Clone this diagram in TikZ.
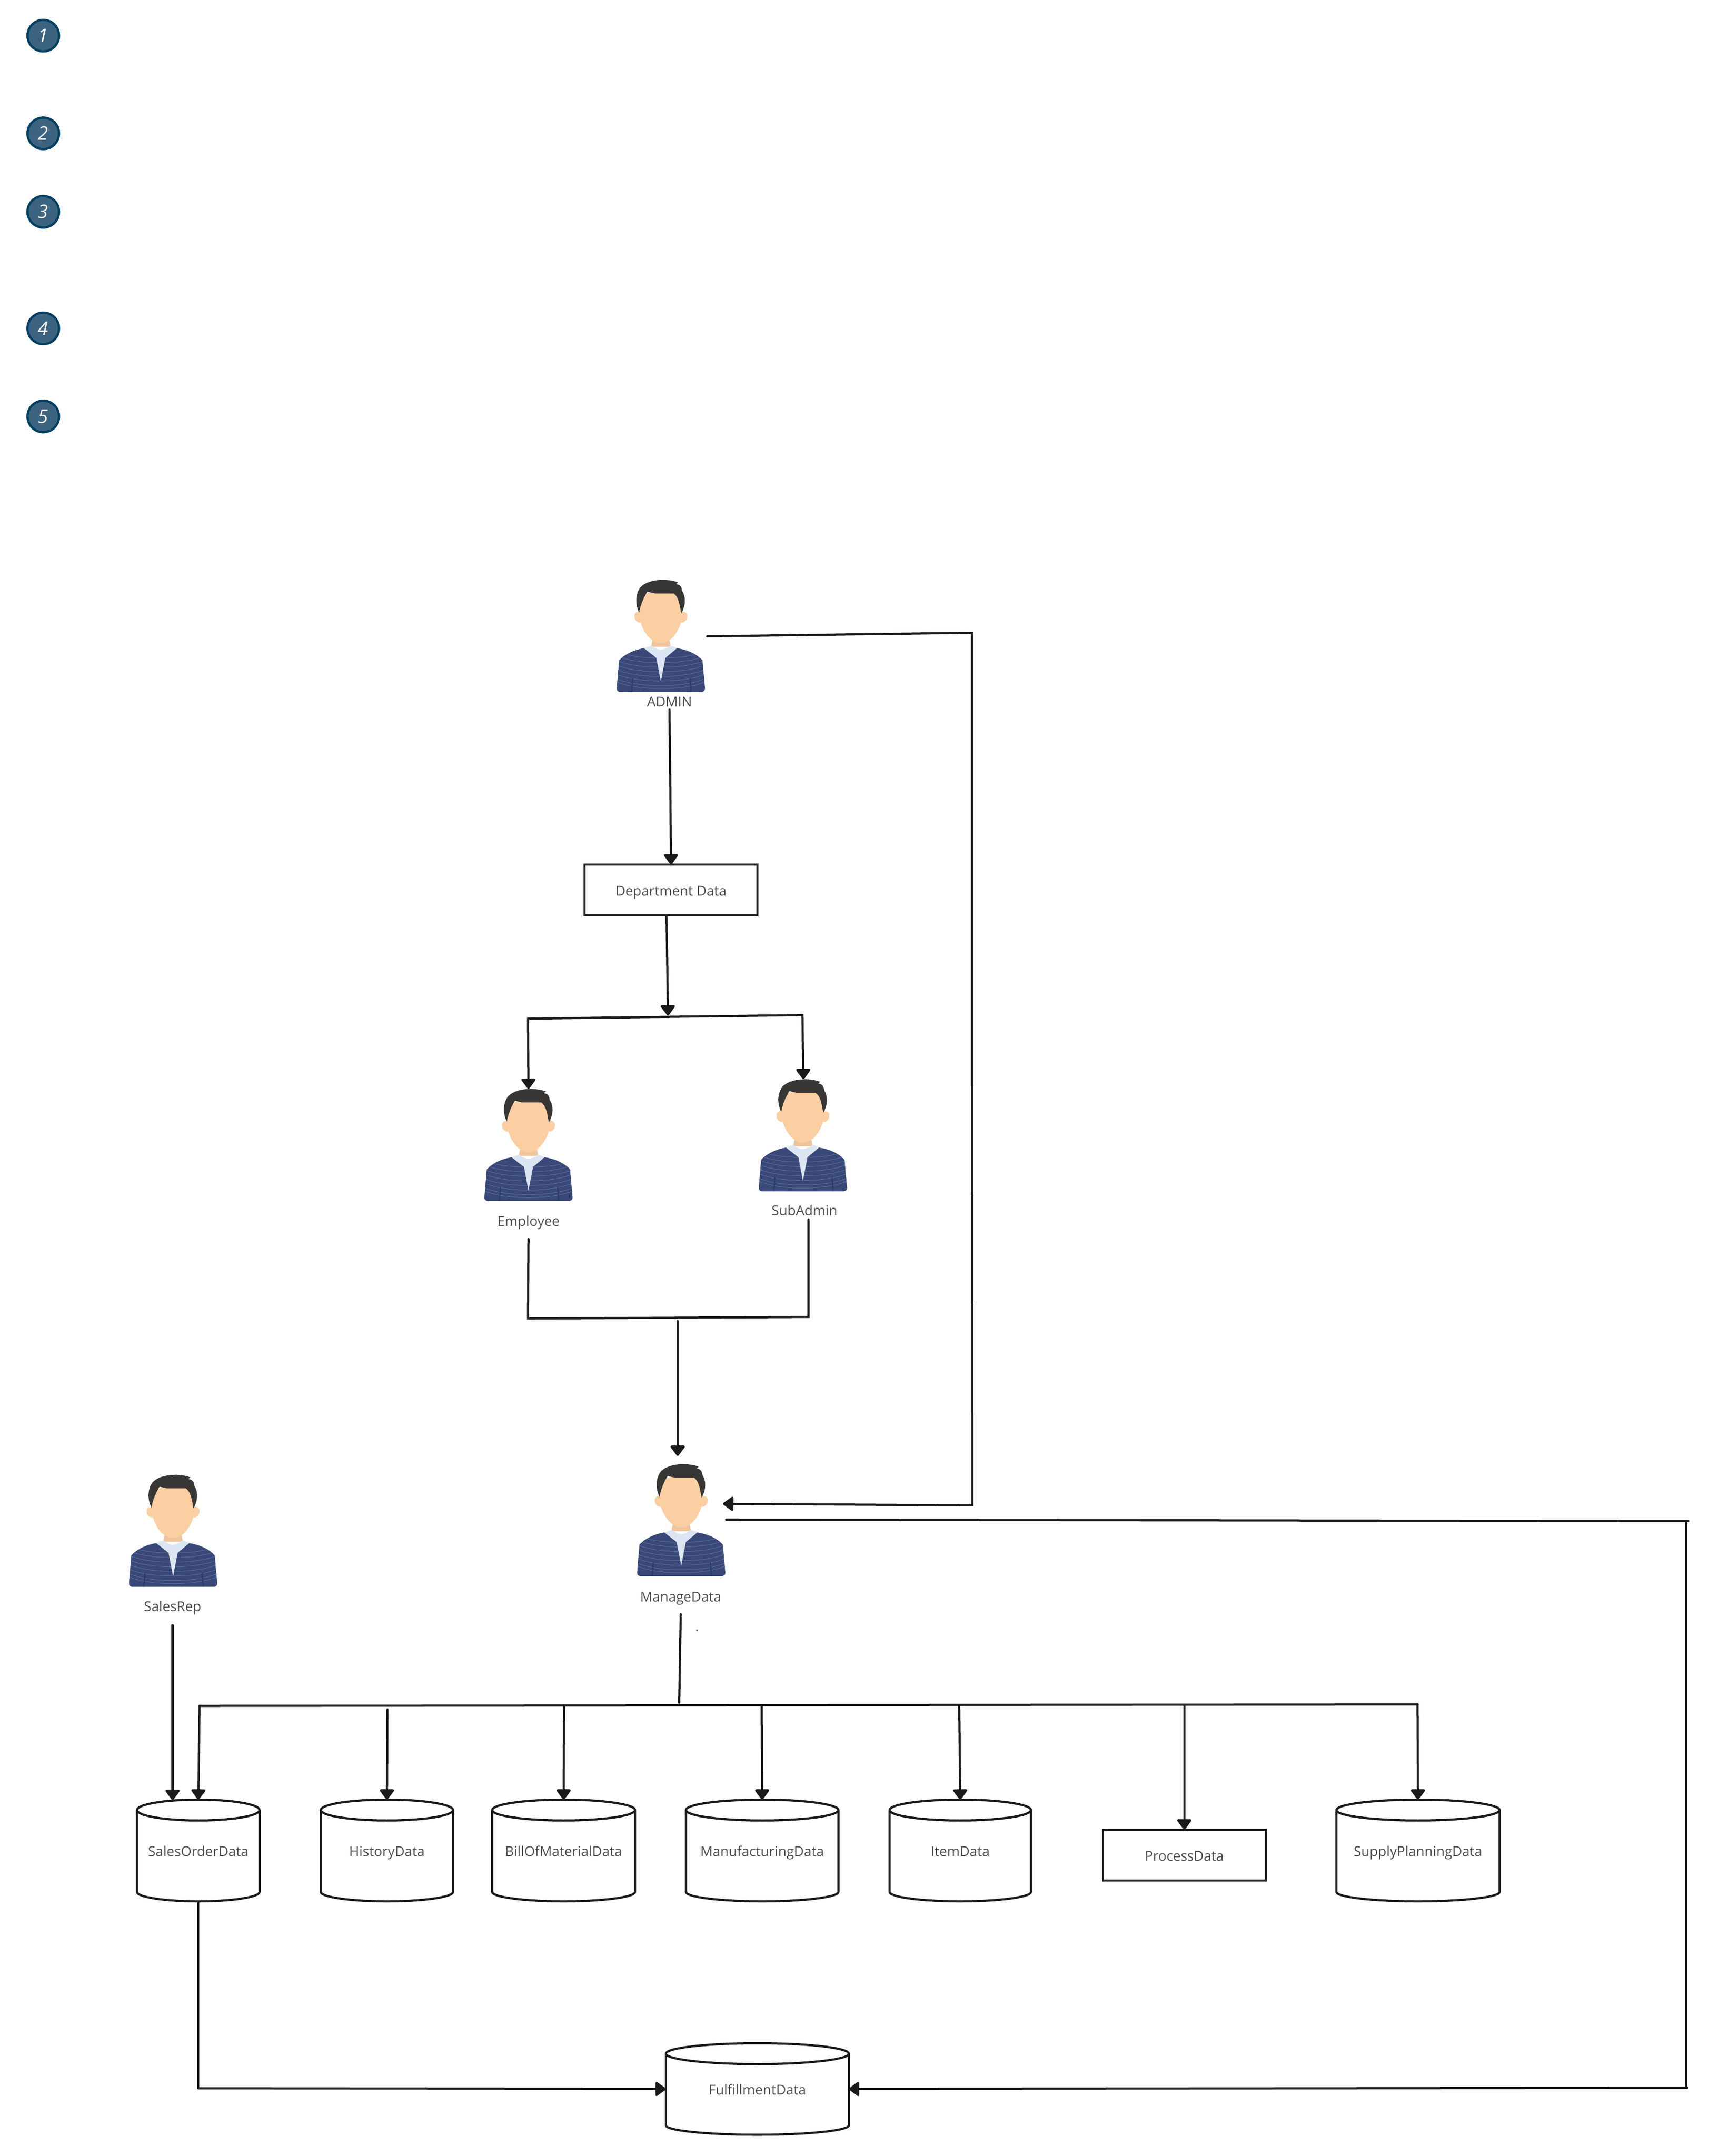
\documentclass[tikz,border=0pt]{standalone}
\usepackage{fontspec}
\setmainfont{Open Sans}
\usetikzlibrary{arrows.meta}
\definecolor{inkline}{HTML}{1A1A1A}
\definecolor{inktext}{HTML}{4D4D4D}
\definecolor{hair}{HTML}{383735}
\definecolor{skin}{HTML}{FBCFA2}
\definecolor{neck}{HTML}{F0C59B}
\definecolor{collar}{HTML}{DCE6F2}
\definecolor{jacket}{HTML}{394878}
\definecolor{stripe}{HTML}{566F98}
\definecolor{seam}{HTML}{2E3B6B}
\definecolor{badgefill}{HTML}{3C6480}
\definecolor{badgeline}{HTML}{033F62}
\tikzset{
	person/.pic={
		\begin{scope}[scale=0.3333,shift={(-450,-125)}]
			\fill[neck] (403,470) -- (392,520) -- (508,520) -- (497,470) -- cycle;
			\fill[skin] (322,315) .. controls (282,305) and (285,378) .. (330,377) -- cycle;
			\fill[skin] (578,315) .. controls (618,305) and (615,378) .. (570,377) -- cycle;
			\fill[skin] (320,300) .. controls (320,400) and (380,498) .. (450,498) .. controls (520,498) and (580,400) .. (580,300) .. controls (580,220) and (530,190) .. (450,190) .. controls (370,190) and (320,220) .. (320,300) -- cycle;
			\fill[hair] (322,318) .. controls (300,270) and (298,220) .. (325,175) .. controls (355,135) and (420,125) .. (470,125) .. controls (505,127) and (530,132) .. (552,140) -- (540,150) .. controls (570,155) and (572,170) .. (575,190) .. controls (595,220) and (600,270) .. (570,322) .. controls (560,270) and (555,225) .. (525,205) -- (415,205) -- (370,195) .. controls (345,235) and (330,275) .. (322,318) -- cycle;
			\fill[collar] (350,528) -- (395,512) .. controls (415,530) and (435,536) .. (450,538) .. controls (465,536) and (485,530) .. (505,512) -- (545,526) -- (477,585) -- (450,725) -- (423,585) -- cycle;
			\begin{scope}
				\path[clip] (204,600) .. controls (235,565) and (290,538) .. (350,528) -- (423,585) -- (450,725) -- (477,585) -- (545,528) .. controls (610,538) and (665,565) .. (695,600) -- (710,765) .. controls (710,778) and (700,785) .. (690,785) -- (210,785) .. controls (198,785) and (190,778) .. (190,765) -- cycle;
				\fill[jacket] (180,520) rectangle (720,790);
				\foreach \dy in {0,27,54,81,108,135,162,180}
					\draw[stripe,line width=.2mm] (190,{545+\dy}) .. controls (300,{600+\dy}) and (600,{600+\dy}) .. (710,{545+\dy});
				\draw[seam,line width=.5mm] (285,705) -- (278,785) (622,705) -- (628,785);
			\end{scope}
		\end{scope}
	},
	label/.style={text=inktext,inner sep=0pt,text height=16pt,text depth=3pt,font=\fontsize{15.3}{17}\selectfont},
	dbcyl/.style={label,rectangle,outer sep=0pt},
	databox/.style={label,rectangle,draw=inkline,line width=.85mm,outer sep=0pt},
	badge/.style={circle,fill=badgefill,draw=badgeline,line width=.9mm,minimum size=12.4mm,inner sep=0pt,text=white,font=\fontsize{21}{24}\selectfont\itshape},
	link/.style={draw=inkline,line width=.85mm,line cap=round},
	flow/.style={link,-{Triangle[length=4.4mm,width=6.2mm,round]}}
}
% node name, half width in mm: draws the drum round a data store
\newcommand{\drum}[2]{
	\draw[inkline,line width=.85mm,line join=round] ([yshift=-4.1mm]#1.north west) -- ([yshift=3.7mm]#1.south west)
		arc[start angle=180,end angle=360,x radius=#2 mm,y radius=3.7mm] -- ([yshift=-4.1mm]#1.north east)
		arc[start angle=0,end angle=360,x radius=#2 mm,y radius=4.1mm];
}
\begin{document}
\begin{tikzpicture}[x=0.2003mm,y=-0.2003mm]
	\useasboundingbox (0,0) rectangle (3356.6,4235.2);
	% numbered badges
	\foreach \n/\ypos in {1/70,2/262,3/416,4/645,5/818}
		\node[badge] (Badge\n) at (85,\ypos) {\n};
	% people
	\pic at (1298,1139) {person};
	\pic at (1038,2139) {person};
	\pic at (1577,2120) {person};
	\pic at (1338,2876) {person};
	\pic at (340,2897) {person};
	\node[label] (Admin) at (1315,1377) {ADMIN};
	\node[label] (Employee) at (1038,2397) {Employee};
	\node[label] (SubAdmin) at (1580,2376) {SubAdmin};
	\node[label] (ManageData) at (1337,3135) {ManageData};
	\node[label] (SalesRep) at (339,3154) {SalesRep};
	\node[label] (Dot) at (1369,3193) {.};
	% data stores
	\node[databox,minimum width=68mm,minimum height=20mm] (DeptData) at (1318,1748) {Department Data};
	\node[databox,minimum width=64mm,minimum height=20mm] (ProcessData) at (2326,3644) {ProcessData};
	\foreach \name/\txt/\xpos/\wid in {SalesOrder/SalesOrderData/389.5/48.2,History/HistoryData/760/52,Bom/BillOfMaterialData/1107/56.2,Manufacturing/ManufacturingData/1497/60,Item/ItemData/1886/55.6,Supply/SupplyPlanningData/2785/64.2}{
		\pgfmathsetmacro\halfwid{\wid/2}
		\node[dbcyl,minimum width=\wid mm,minimum height=40mm] (\name) at (\xpos,3635) {\txt};
		\drum{\name}{\halfwid}
	}
	\node[dbcyl,minimum width=72mm,minimum height=36mm] (Fulfillment) at (1487.5,4103.5) {FulfillmentData};
	\drum{Fulfillment}{36}
	% junctions
	\coordinate (AdminOut) at (1389,1250);
	\coordinate (AdminCorner) at (1909,1243);
	\coordinate (AdminJog) at (1909,2100);
	\coordinate (AdminLow) at (1910,2957);
	\coordinate (ManageIn) at (1420,2954);
	\coordinate (DeptOut) at (1309,1798);
	\coordinate (DeptDrop) at (1312,1995);
	\coordinate (BranchL) at (1037,2001);
	\coordinate (BranchR) at (1576,1994);
	\coordinate (EmployeeIn) at (1038,2139);
	\coordinate (SubAdminIn) at (1578,2120);
	\coordinate (JoinL) at (1037,2590);
	\coordinate (JoinR) at (1588,2587);
	\coordinate (JoinOut) at (1331,2595);
	\coordinate (ManageTop) at (1331,2860);
	\coordinate (ManageOut) at (1426,2985);
	\coordinate (FarCorner) at (3316,2988);
	\coordinate (FarTop) at (3312,2988);
	\coordinate (FarLow) at (3312,4099);
	\coordinate (FarBottom) at (3314,4101);
	\coordinate (BusIn) at (1334,3345);
	\coordinate (BusL) at (392,3351);
	\coordinate (BusHist) at (761,3358);
	\coordinate (BusBom) at (1108,3350);
	\coordinate (BusManu) at (1496,3350);
	\coordinate (BusItem) at (1884,3350);
	\coordinate (BusProc) at (2326,3349);
	\coordinate (BusR) at (2784,3348);
	\coordinate (RepDrop) at (339,3536);
	\coordinate (OrderLow) at (389.5,4102);
	% connectors
	\draw[link] (AdminOut) -- (AdminCorner) -- (AdminJog) -- (AdminLow);
	\draw[flow] (AdminLow) -- (ManageIn);
	\draw[flow] (Admin.south) -- (DeptData.north);
	\draw[flow] (DeptOut) -- (DeptDrop);
	\draw[link] (BranchL) -- (BranchR);
	\draw[flow] (BranchL) -- (EmployeeIn);
	\draw[flow] (BranchR) -- (SubAdminIn);
	\draw[link] ([yshift=-4mm]Employee.south) -- (JoinL) -- (JoinR) -- ([yshift=-.5mm]SubAdmin.south -| JoinR);
	\draw[flow] (JoinOut) -- (ManageTop);
	\draw[link] (ManageOut) -- (FarCorner);
	\draw[link] (FarTop) -- (FarLow);
	\draw[flow] (FarBottom) -- (Fulfillment.east);
	\draw[link] ([yshift=-3.8mm]ManageData.south) -- (BusIn);
	\draw[link] (BusL) -- (BusR);
	\draw[flow] ([yshift=-4.3mm]SalesRep.south) -- (RepDrop);
	\draw[flow] (BusL) -- (SalesOrder.north);
	\draw[flow] (BusHist) -- (History.north);
	\draw[flow] (BusBom) -- (Bom.north);
	\draw[flow] (BusManu) -- (Manufacturing.north);
	\draw[flow] (BusItem) -- (Item.north);
	\draw[flow] (BusProc) -- (ProcessData.north);
	\draw[flow] (BusR) -- (Supply.north);
	\draw[link] (SalesOrder.south) -- (OrderLow);
	\draw[flow] (OrderLow) -- (Fulfillment.west);
\end{tikzpicture}
\end{document}
